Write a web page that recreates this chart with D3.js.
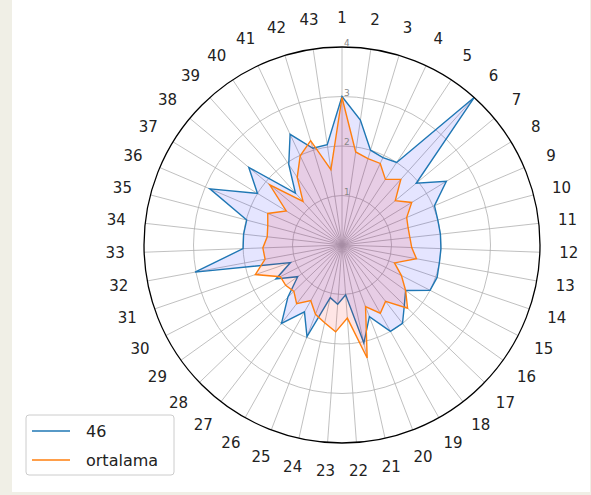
<!DOCTYPE html>
<html>
<head>
<meta charset="utf-8">
<script src="https://cdn.jsdelivr.net/npm/d3@7/dist/d3.min.js"></script>
<style>
  html, body { margin: 0; padding: 0; background: #f0efe6; }
  svg { display: block; }
  text { font-family: "DejaVu Sans", sans-serif; }
</style>
</head>
<body>
<svg id="chart" width="591" height="495"></svg>
<script>
const categories = ["1","2","3","4","5","6","7","8","9","10","11","12","13","14","15","16","17","18","19","20","21","22","23","24","25","26","27","28","29","30","31","32","33","34","35","36","37","38","39","40","41","42","43"];
const series46 = [3.0,2.55,2.0,1.95,2.0,4.0,1.95,2.47,2.03,2.0,2.0,2.0,2.0,2.03,2.0,1.58,1.75,2.0,2.0,1.55,2.03,1.01,1.2,1.09,1.98,1.55,2.0,1.52,1.1,1.5,1.1,3.02,2.0,2.0,1.99,2.9,2.0,2.45,1.41,1.95,2.47,2.04,2.05];
const seriesAvg = [2.98,1.9,1.82,1.82,1.59,1.78,1.4,1.65,1.42,1.38,1.38,1.41,1.53,1.12,1.35,1.58,1.84,1.44,1.58,1.33,2.34,1.48,1.76,1.61,1.5,1.29,1.5,1.35,1.4,1.4,1.85,1.58,1.6,1.52,1.55,1.63,1.32,1.9,1.18,1.64,1.99,2.2,1.54];
const seriesNames = ["46", "ortalama"];
const rTicks = [1, 2, 3, 4];

const svg = d3.select("#chart");
svg.append("rect").attr("x", 12).attr("y", 0).attr("width", 578).attr("height", 492).attr("fill", "#ffffff");

const cx = 342, cy = 245, R = 198;
const g = svg.append("g").attr("transform", `translate(${cx},${cy})`);
const r = d3.scaleLinear().domain([0, 4]).range([0, R]);
const n = categories.length;
const ang = d3.scaleLinear().domain([0, n]).range([0, 2 * Math.PI]);

g.selectAll("circle.grid").data(rTicks.slice(0, -1)).enter().append("circle")
  .attr("r", d => r(d)).attr("fill", "none").attr("stroke", "#b0b0b0").attr("stroke-width", 0.8);
g.selectAll("line.spoke").data(categories).enter().append("line")
  .attr("x1", 0).attr("y1", 0)
  .attr("x2", (d, i) => r(4) * Math.sin(ang(i)))
  .attr("y2", (d, i) => -r(4) * Math.cos(ang(i)))
  .attr("stroke", "#b0b0b0").attr("stroke-width", 0.8);

const line = d3.lineRadial().angle((d, i) => ang(i)).radius(d => r(d)).curve(d3.curveLinearClosed);

g.append("path").attr("d", line(series46)).attr("fill", "rgba(0,0,255,0.1)").attr("stroke", "none");
g.append("path").attr("d", line(series46)).attr("fill", "none").attr("stroke", "#1f77b4").attr("stroke-width", 1.4);
g.append("path").attr("d", line(seriesAvg)).attr("fill", "rgba(255,0,0,0.1)").attr("stroke", "none");
g.append("path").attr("d", line(seriesAvg)).attr("fill", "none").attr("stroke", "#ff7f0e").attr("stroke-width", 1.4);

g.append("circle").attr("r", R).attr("fill", "none").attr("stroke", "#000").attr("stroke-width", 1.3);

g.selectAll("text.rt").data(rTicks).enter().append("text")
  .attr("x", 2).attr("y", d => -r(d) - 1)
  .attr("font-size", 9).attr("fill", "#888").attr("text-anchor", "start")
  .text(d => d);

const LR = 227;
g.selectAll("text.cat").data(categories).enter().append("text")
  .attr("x", (d, i) => LR * Math.sin(ang(i)))
  .attr("y", (d, i) => -LR * Math.cos(ang(i)))
  .attr("text-anchor", "middle").attr("dominant-baseline", "central")
  .attr("font-size", 15).attr("fill", "#222")
  .text(d => d);

const lg = svg.append("g");
lg.append("rect").attr("x", 26).attr("y", 415).attr("width", 148).attr("height", 60).attr("rx", 3)
  .attr("fill", "rgba(255,255,255,0.8)").attr("stroke", "#cccccc").attr("stroke-width", 1);
const colors = ["#1f77b4", "#ff7f0e"];
seriesNames.forEach((s, i) => {
  const y = 431 + i * 29;
  lg.append("line").attr("x1", 32).attr("x2", 70).attr("y1", y).attr("y2", y).attr("stroke", colors[i]).attr("stroke-width", 1.5);
  lg.append("text").attr("x", 86).attr("y", y).attr("dominant-baseline", "central").attr("font-size", 16).attr("fill", "#222").text(s);
});
</script>
</body>
</html>
